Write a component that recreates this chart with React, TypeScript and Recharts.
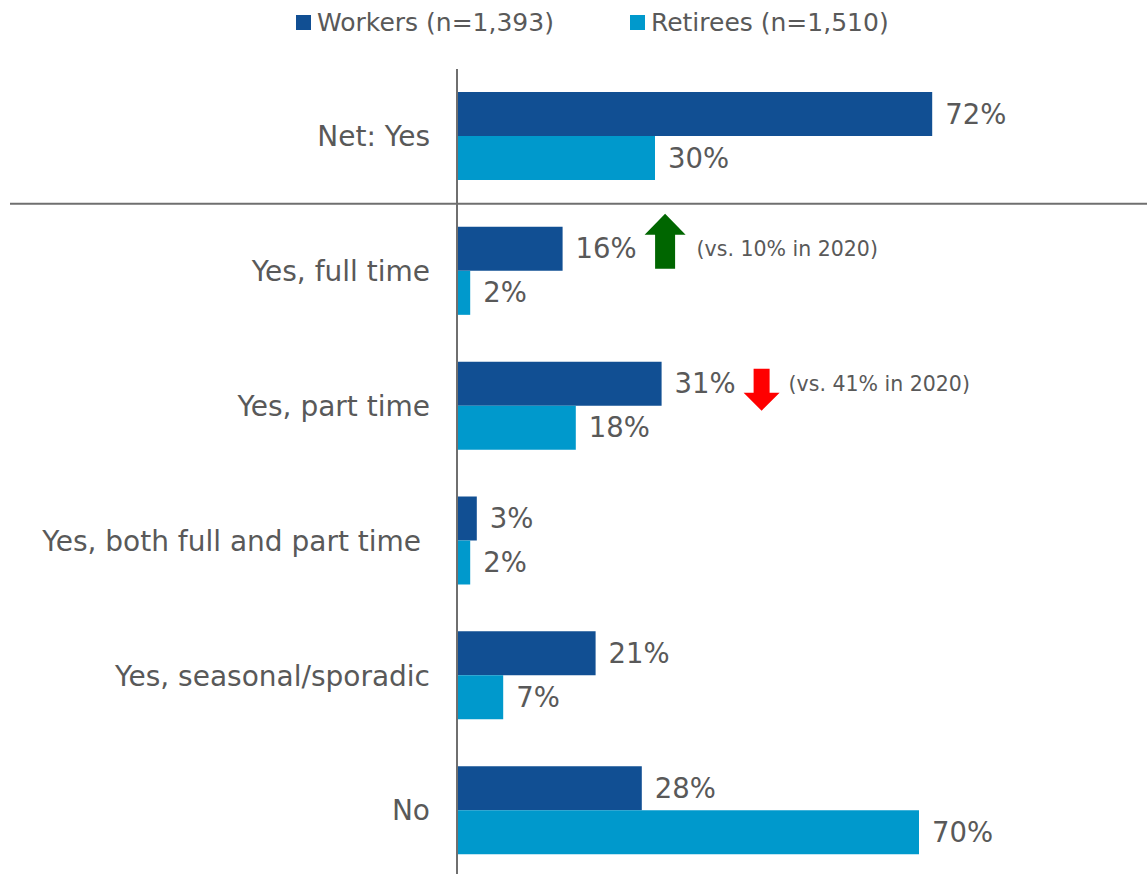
import React from 'react';
import * as RC from 'recharts';
import { BarChart, Bar, XAxis, YAxis, Legend, LabelList, Customized } from 'recharts';

const categories = ['Net: Yes', 'Yes, full time', 'Yes, part time', 'Yes, both full and part time ', 'Yes, seasonal/sporadic', 'No'];
const workers = [72, 16, 31, 3, 21, 28];
const retirees = [30, 2, 18, 2, 7, 70];
const workersPrior2020: (number | null)[] = [null, 10, 41, null, null, null];
const seriesNames = ['Workers (n=1,393)', 'Retirees (n=1,510)'];
const priorYearLabel = '2020';

const WORKER_COLOR = '#114F93';
const RETIREE_COLOR = '#0099CC';
const TEXT_COLOR = '#595959';
const FONT = '"DejaVu Sans", sans-serif';

const data = categories.map((name, i) => ({
  name,
  workers: workers[i],
  retirees: retirees[i],
  prior: workersPrior2020[i],
}));

const usePlotArea: any = (RC as any).usePlotArea;

const Divider = () => {
  const area = usePlotArea ? usePlotArea() : null;
  if (!area) return null;
  const y = area.y + area.height / categories.length;
  return <line x1={10} x2={1147} y1={y} y2={y} stroke="#6f6f6f" strokeWidth={2} />;
};

const CategoryTick = (props: any) => {
  const { x, y, payload } = props;
  return (
    <text x={x - 19} y={y} dy="0.35em" textAnchor="end" fill={TEXT_COLOR} fontSize={28} fontFamily={FONT} style={{ whiteSpace: 'pre' }}>
      {payload.value}
    </text>
  );
};

const WorkerLabel = (props: any) => {
  const { x, y, width, height, value, index } = props;
  const bx = x + width;
  const cy = y + height / 2;
  const prior = workersPrior2020[index];
  let extra = null;
  if (prior != null) {
    const up = value > prior;
    const ax = bx + 82;
    if (up) {
      const hw = 41, sw = 20;
      const tip = cy - 35, base = cy - 14, bottom = cy + 20;
      const mid = ax + hw / 2;
      const d = `M${mid},${tip} L${ax + hw},${base} L${mid + sw / 2},${base} L${mid + sw / 2},${bottom} L${mid - sw / 2},${bottom} L${mid - sw / 2},${base} L${ax},${base} Z`;
      extra = (
        <g>
          <path d={d} fill="#006600" />
          <text x={ax + hw + 11} y={cy} dy="0.35em" fill={TEXT_COLOR} fontSize={20.5} fontFamily={FONT}>
            {`(vs. ${prior}% in ${priorYearLabel})`}
          </text>
        </g>
      );
    } else {
      const hw = 36, sw = 16;
      const top = cy - 15, base = cy + 9, tip = cy + 27;
      const mid = ax + hw / 2;
      const d = `M${mid - sw / 2},${top} L${mid + sw / 2},${top} L${mid + sw / 2},${base} L${ax + hw},${base} L${mid},${tip} L${ax},${base} L${mid - sw / 2},${base} Z`;
      extra = (
        <g>
          <path d={d} fill="#FF0000" />
          <text x={ax + hw + 9} y={cy} dy="0.35em" fill={TEXT_COLOR} fontSize={20.5} fontFamily={FONT}>
            {`(vs. ${prior}% in ${priorYearLabel})`}
          </text>
        </g>
      );
    }
  }
  return (
    <g>
      <text x={bx + 13} y={cy} dy="0.35em" fill={TEXT_COLOR} fontSize={27.5} fontFamily={FONT}>
        {`${value}%`}
      </text>
      {extra}
    </g>
  );
};

const RetireeLabel = (props: any) => {
  const { x, y, width, height, value } = props;
  return (
    <text x={x + width + 13} y={y + height / 2} dy="0.35em" fill={TEXT_COLOR} fontSize={27.5} fontFamily={FONT}>
      {`${value}%`}
    </text>
  );
};

const LegendContent = () => {
  const colors = [WORKER_COLOR, RETIREE_COLOR];
  return (
    <div style={{ height: 45, display: 'flex', alignItems: 'center', paddingLeft: 296, fontFamily: FONT, fontSize: 25, color: TEXT_COLOR }}>
      {seriesNames.map((n, i) => (
        <div key={n} style={{ display: 'flex', alignItems: 'center', marginRight: 76 }}>
          <div style={{ width: 15, height: 15, background: colors[i], marginRight: 6 }} />
          <span>{n}</span>
        </div>
      ))}
    </div>
  );
};

export default function App() {
  return (
    <div style={{ position: 'absolute', left: 0, top: 0, width: 1147, height: 874, overflow: 'hidden', background: '#fff' }}>
      <BarChart
        width={1147}
        height={878}
        data={data}
        layout="vertical"
        margin={{ top: 24, right: 30, bottom: 0, left: 0 }}
        barGap={0}
        barSize={44}
      >
        <XAxis type="number" domain={[0, 100]} hide />
        <YAxis
          type="category"
          dataKey="name"
          width={457}
          axisLine={{ stroke: '#6f6f6f', strokeWidth: 2 }}
          tickLine={false}
          tick={<CategoryTick />}
          interval={0}
        />
        <Legend verticalAlign="top" content={<LegendContent />} wrapperStyle={{ top: 0, left: 0, width: 1147 }} />
        <Bar dataKey="workers" name={seriesNames[0]} fill={WORKER_COLOR} isAnimationActive={false}>
          <LabelList dataKey="workers" content={<WorkerLabel />} />
        </Bar>
        <Bar dataKey="retirees" name={seriesNames[1]} fill={RETIREE_COLOR} isAnimationActive={false}>
          <LabelList dataKey="retirees" content={<RetireeLabel />} />
        </Bar>
        <Customized component={<Divider />} />
      </BarChart>
    </div>
  );
}
